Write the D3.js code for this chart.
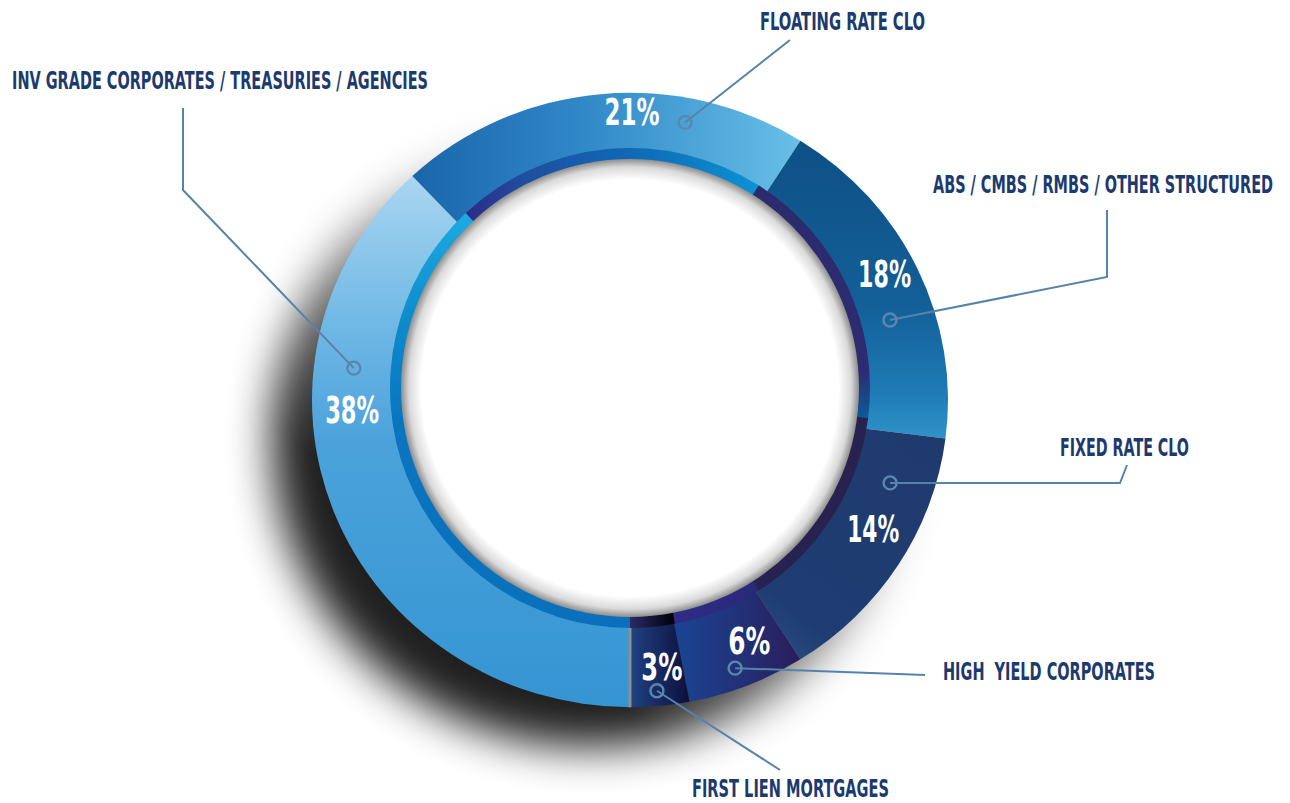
<!DOCTYPE html>
<html>
<head>
<meta charset="utf-8">
<script src="https://cdn.jsdelivr.net/npm/d3@7/dist/d3.min.js"></script>
<style>
  body { margin: 0; background: #fff; }
  text { font-family: "Liberation Sans Narrow", "DejaVu Sans Condensed", "Roboto", sans-serif; font-weight: bold; }
</style>
</head>
<body>
<div id="chart"></div>
<script>
// data
const categories = [
    "INV GRADE CORPORATES / TREASURIES / AGENCIES",
    "FLOATING RATE CLO",
    "ABS / CMBS / RMBS / OTHER STRUCTURED",
    "FIXED RATE CLO",
    "HIGH  YIELD CORPORATES",
    "FIRST LIEN MORTGAGES"
];
const values = [38, 21, 18, 14, 6, 3];
const pctLabels = values.map(v => v + "%");

// colores de cada segmento (gradiente) y de la banda interior
const sliceColors = [
    { dir: [0, 0, 0, 1], stops: [[0, "#a9d6f1"], [0.28, "#70b8e5"], [0.5, "#4ba2db"], [1, "#3595d2"]] },
    { dir: [0, 0, 1, 0], stops: [[0, "#1a65aa"], [0.45, "#3189c8"], [1, "#68bfe7"]] },
    { dir: [0, 0, 0, 1], stops: [[0, "#0e5086"], [0.55, "#135f98"], [0.85, "#1f7bb6"], [1, "#2f93c9"]] },
    { dir: [1, 0, 0, 1], stops: [[0, "#1f3a6d"], [0.65, "#1f3d73"], [1, "#3d6d9e"]] },
    { dir: [0, 0, 1, 0], stops: [[0, "#1553a8"], [1, "#2a1d5c"]] },
    { dir: [0, 0, 1, 0], stops: [[0, "#1f4283"], [1, "#0d0f3c"]] }
];
const bandColors = [
    { dir: [0, 0, 0, 1], stops: [[0, "#1cabe3"], [0.25, "#0e8ccd"], [0.5, "#0a75bf"], [1, "#0a70bb"]] },
    { dir: [0, 0, 1, 0], stops: [[0, "#2e2b86"], [0.2, "#1e4ea0"], [0.6, "#0f6cb7"], [1, "#0a93d3"]] },
    { dir: [0, 0, 0, 1], stops: [[0, "#2c2b6d"], [0.8, "#2d2c72"], [1, "#0b5b9a"]] },
    { dir: [0, 0, 1, 0], stops: [[0, "#27224f"], [1, "#27224f"]] },
    { dir: [0, 0, 1, 0], stops: [[0, "#2f2c86"], [1, "#2a2878"]] },
    { dir: [0, 0, 1, 0], stops: [[0, "#2b2a66"], [1, "#000008"]] }
];

// posicion relativa dentro de cada segmento (fraccion del angulo, radio)
const pctAt = [[0.643, 278], [0.577, 288], [0.483, 284], [0.409, 275], [0.282, 269], [0.37, 269]];
const dotAt = [[0.706, 278], [0.72, 283], [0.625, 272], [0.208, 273], [0.509, 288], [0.51, 292]];

// etiquetas: posicion del texto y puntos del conector (desde la etiqueta hacia el punto)
const labelPos = [
    { x: 12, y: 89, len: 416, anchor: "start", pts: [[183, 108], [183, 190]] },
    { x: 925, y: 30, len: 165, anchor: "end", pts: [[790, 40]] },
    { x: 1273, y: 193, len: 340, anchor: "end", pts: [[1107, 210], [1107, 277]] },
    { x: 1189, y: 456, len: 129, anchor: "end", pts: [[1127, 465], [1120, 483]] },
    { x: 1155, y: 680, len: 212, anchor: "end", pts: [[925, 675]] },
    { x: 889, y: 797, len: 197, anchor: "end", pts: [[780, 770]] }
];
const pctLen = [54, 55, 53, 52, 42, 41];

var width = 1290;
var height = 803;
var cx = 630, cy = 400;      // centro del anillo exterior
var icx = 630, icy = 388;    // centro del circulo interior
var outerR = 318, squash = 0.966;
var innerR = 229, bandR = 240;

var svg = d3.select("#chart").append("svg")
    .attr("width", width)
    .attr("height", height);

var defs = svg.append("defs");

function addGradient(id, c) {
    var g = defs.append("linearGradient").attr("id", id)
        .attr("x1", c.dir[0]).attr("y1", c.dir[1]).attr("x2", c.dir[2]).attr("y2", c.dir[3]);
    c.stops.forEach(s => g.append("stop").attr("offset", s[0]).attr("stop-color", s[1]));
}
sliceColors.forEach((c, i) => addGradient("slice" + i, c));
bandColors.forEach((c, i) => addGradient("band" + i, c));

// sombra
var blur = defs.append("filter").attr("id", "blur")
    .attr("x", "-30%").attr("y", "-30%").attr("width", "160%").attr("height", "160%");
blur.append("feGaussianBlur").attr("stdDeviation", 22);

var fade = defs.append("linearGradient").attr("id", "fade")
    .attr("gradientUnits", "userSpaceOnUse")
    .attr("x1", 760).attr("y1", 270).attr("x2", 490).attr("y2", 600);
fade.append("stop").attr("offset", 0).attr("stop-color", "#fff").attr("stop-opacity", 0);
fade.append("stop").attr("offset", 1).attr("stop-color", "#fff").attr("stop-opacity", 1);
defs.append("mask").attr("id", "fadeMask")
    .append("rect").attr("width", width).attr("height", height).attr("fill", "url(#fade)");

var inner = defs.append("radialGradient").attr("id", "innerShade");
inner.append("stop").attr("offset", 0).attr("stop-color", "#fff");
inner.append("stop").attr("offset", 0.91).attr("stop-color", "#fff");
inner.append("stop").attr("offset", 0.965).attr("stop-color", "#dadada");
inner.append("stop").attr("offset", 1).attr("stop-color", "#8e8e8e");

svg.append("g").attr("mask", "url(#fadeMask)")
    .append("ellipse")
    .attr("cx", cx - 40).attr("cy", cy + 40)
    .attr("rx", outerR).attr("ry", outerR * squash)
    .attr("fill", "#000")
    .attr("opacity", 0.88)
    .attr("filter", "url(#blur)");

// pie: empieza abajo y va en sentido horario
var pie = d3.pie().sort(null).startAngle(Math.PI).endAngle(3 * Math.PI);
var arcs = pie(values);

var arc = d3.arc().innerRadius(0).outerRadius(outerR);
var bandArc = d3.arc().innerRadius(innerR - 1).outerRadius(bandR);

svg.append("g")
    .attr("transform", "translate(" + cx + "," + cy + ") scale(1," + squash + ")")
    .selectAll("path")
    .data(arcs)
    .enter().append("path")
    .attr("d", arc)
    .attr("fill", (d, i) => "url(#slice" + i + ")");

var ring = svg.append("g").attr("transform", "translate(" + icx + "," + icy + ")");
ring.selectAll("path")
    .data(arcs)
    .enter().append("path")
    .attr("d", bandArc)
    .attr("fill", (d, i) => "url(#band" + i + ")");

ring.append("circle")
    .attr("r", innerR)
    .attr("fill", "url(#innerShade)");

// linea gris en el inicio del primer segmento
var a0 = arcs[0].startAngle;
svg.append("line")
    .attr("x1", icx + bandR * Math.sin(a0)).attr("y1", icy - bandR * Math.cos(a0))
    .attr("x2", cx + outerR * Math.sin(a0)).attr("y2", cy - outerR * squash * Math.cos(a0))
    .attr("stroke", "#8d8f92")
    .attr("stroke-width", 3);

function polar(d, at) {
    var a = d.startAngle + (d.endAngle - d.startAngle) * at[0];
    return [cx + at[1] * Math.sin(a), cy - at[1] * Math.cos(a)];
}

// conectores
var lineColor = "#5683ac";
svg.selectAll(".leader")
    .data(arcs)
    .enter().append("polyline")
    .attr("class", "leader")
    .attr("points", (d, i) => {
        var p = polar(d, dotAt[i]);
        var pts = labelPos[i].pts.concat([p]);
        return pts.map(q => q.join(",")).join(" ");
    })
    .attr("fill", "none")
    .attr("stroke", lineColor)
    .attr("stroke-width", 2);

svg.selectAll(".dot")
    .data(arcs)
    .enter().append("circle")
    .attr("class", "dot")
    .attr("cx", (d, i) => polar(d, dotAt[i])[0])
    .attr("cy", (d, i) => polar(d, dotAt[i])[1])
    .attr("r", 6.5)
    .attr("fill", "none")
    .attr("stroke", "#5b86ad")
    .attr("stroke-width", 2.4);

// porcentajes
svg.selectAll(".pct")
    .data(arcs)
    .enter().append("text")
    .attr("class", "pct")
    .attr("x", (d, i) => polar(d, pctAt[i])[0])
    .attr("y", (d, i) => polar(d, pctAt[i])[1])
    .attr("dy", "0.36em")
    .attr("text-anchor", "middle")
    .attr("font-size", 37)
    .attr("fill", "#fff")
    .attr("textLength", (d, i) => pctLen[i])
    .attr("lengthAdjust", "spacingAndGlyphs")
    .text((d, i) => pctLabels[i]);

// nombres de categorias
svg.selectAll(".cat")
    .data(categories)
    .enter().append("text")
    .attr("class", "cat")
    .attr("x", (d, i) => labelPos[i].x)
    .attr("y", (d, i) => labelPos[i].y)
    .attr("text-anchor", (d, i) => labelPos[i].anchor)
    .attr("font-size", 25)
    .attr("fill", "#1c3a6e")
    .attr("textLength", (d, i) => labelPos[i].len)
    .attr("lengthAdjust", "spacingAndGlyphs")
    .style("white-space", "pre")
    .text(d => d);
</script>
</body>
</html>
